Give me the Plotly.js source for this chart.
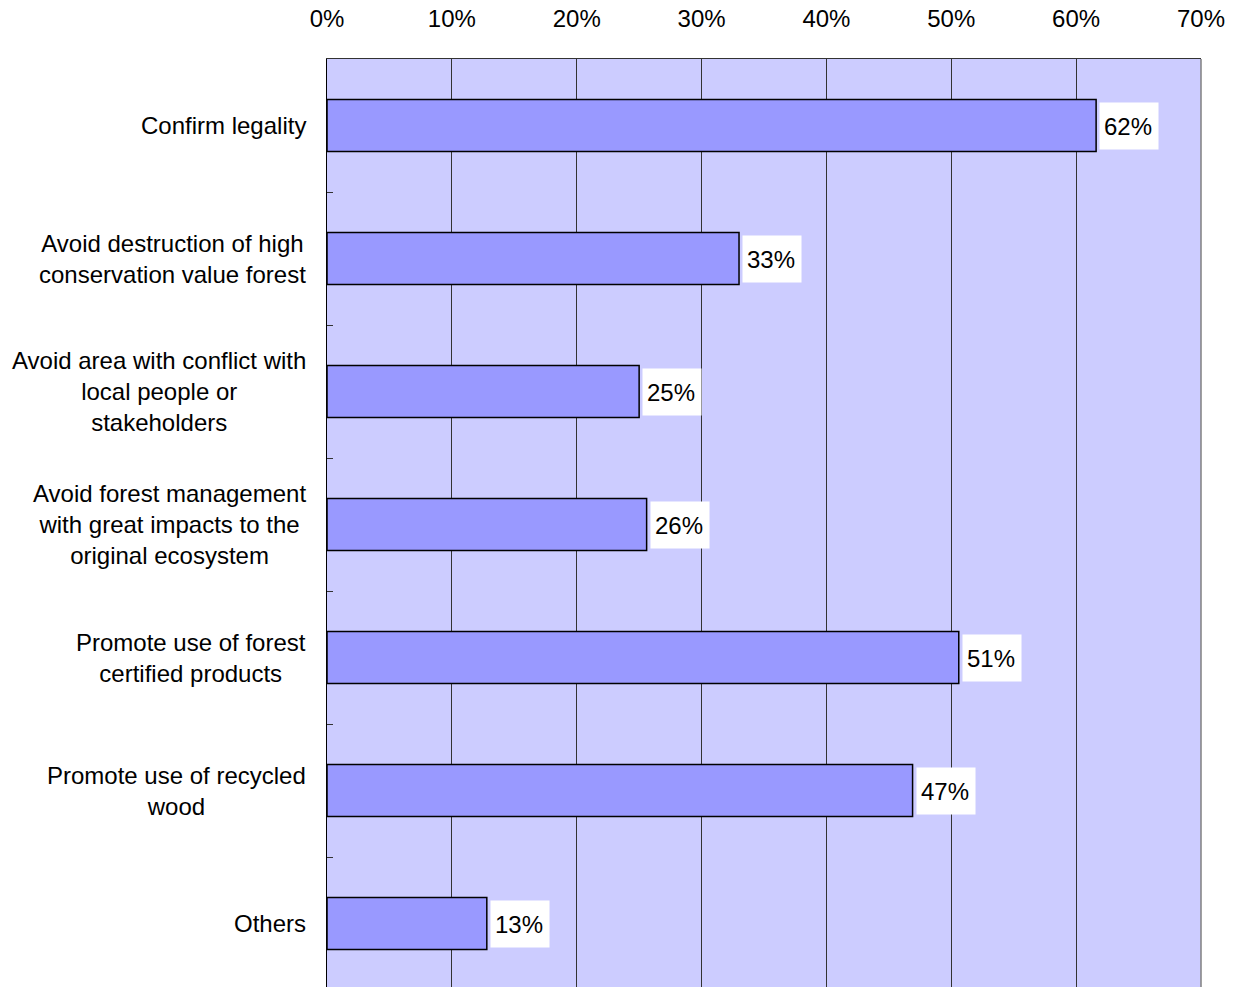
<!DOCTYPE html>
<html>
<head>
<meta charset="utf-8">
<script src="https://cdn.plot.ly/plotly-3.0.1.min.js"></script>
<style>
html,body{margin:0;padding:0;overflow:hidden;background:#fff;}
#chart{width:1240px;height:1000px;}
</style>
</head>
<body>
<div id="chart"></div>
<script>
var categories = [
  "Confirm legality",
  "Avoid destruction of high<br>conservation value forest",
  "Avoid area with conflict with<br>local people or<br>stakeholders",
  "Avoid forest management<br>with great impacts to the<br>original ecosystem",
  "Promote use of forest<br>certified products",
  "Promote use of recycled<br>wood",
  "Others"
];
var values = [61.6, 33.0, 25.0, 25.6, 50.6, 46.9, 12.8];
var valueLabels = ["62%", "33%", "25%", "26%", "51%", "47%", "13%"];
var xTickVals = [0, 10, 20, 30, 40, 50, 60, 70];
var xTickText = ["0%", "10%", "20%", "30%", "40%", "50%", "60%", "70%"];

var FONT = "Liberation Sans, Arial, sans-serif";
var ids = categories.map(function(c, i){ return i; });
var boundaries = categories.slice(1).map(function(c, i){ return i + 0.5; });

var trace = {
  type: "bar",
  orientation: "h",
  x: values,
  y: ids,
  width: 0.39,
  marker: {color: "#9999FF", line: {color: "#000000", width: 1.5}},
  hoverinfo: "skip"
};

var annotations = [];
categories.forEach(function(c, i){
  annotations.push({
    xref: "paper", yref: "y", x: 0, y: i,
    xanchor: "right", yanchor: "middle", xshift: -19,
    text: c, showarrow: false, align: "center",
    font: {family: FONT, size: 24, color: "#000"}
  });
  annotations.push({
    xref: "x", yref: "y", x: values[i], y: i,
    xanchor: "left", yanchor: "middle", xshift: 3,
    text: valueLabels[i], showarrow: false, align: "left",
    width: 50, height: 38, borderpad: 4,
    bgcolor: "#FFFFFF",
    font: {family: FONT, size: 24, color: "#000"}
  });
});

var layout = {
  width: 1240, height: 1000,
  margin: {l: 327, r: 39, t: 59, b: 10},
  paper_bgcolor: "#FFFFFF",
  plot_bgcolor: "#CCCCFF",
  showlegend: false,
  font: {family: FONT, size: 24, color: "#000"},
  xaxis: {
    side: "top",
    range: [0, 70],
    tickvals: xTickVals,
    ticktext: xTickText,
    ticks: "",
    ticklabelstandoff: 21,
    showgrid: true,
    gridcolor: "#333333",
    gridwidth: 1,
    zeroline: false,
    showline: true,
    linecolor: "#333333",
    linewidth: 1.5,
    mirror: false,
    tickfont: {family: FONT, size: 24, color: "#000"},
    fixedrange: true
  },
  yaxis: {
    range: [6.5, -0.5],
    tickvals: boundaries,
    showticklabels: false,
    ticks: "inside",
    ticklen: 6,
    tickcolor: "#333333",
    tickwidth: 1,
    showgrid: false,
    zeroline: false,
    showline: true,
    linecolor: "#000000",
    linewidth: 1.5,
    mirror: false,
    fixedrange: true
  },
  shapes: [{
    type: "line", xref: "paper", yref: "paper",
    x0: 1, x1: 1, y0: 0, y1: 1,
    line: {color: "#808080", width: 1.5}
  }],
  annotations: annotations
};

Plotly.newPlot("chart", [trace], layout, {displayModeBar: false, staticPlot: true});
</script>
</body>
</html>
